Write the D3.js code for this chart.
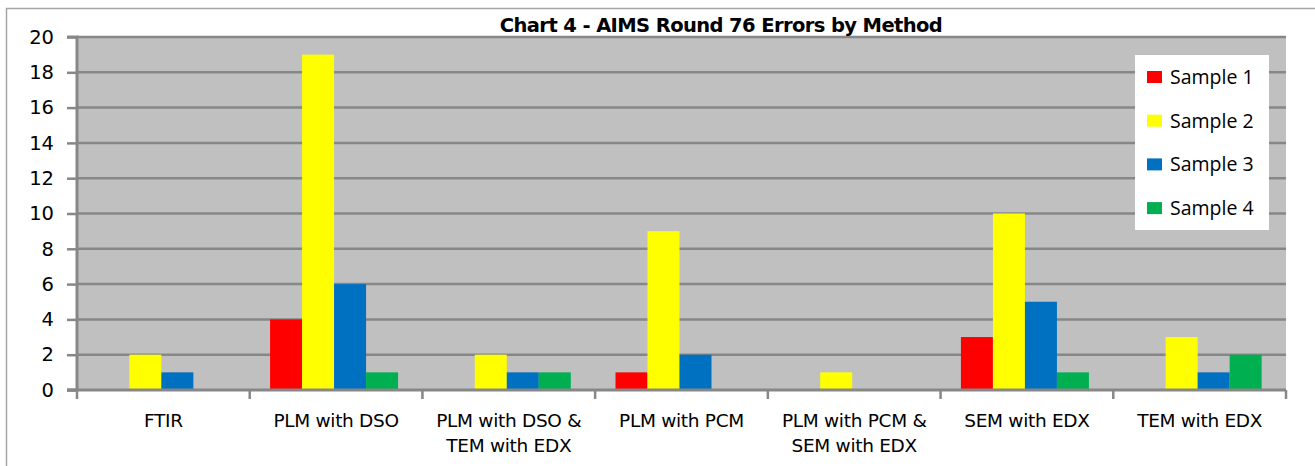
<!DOCTYPE html>
<html><head><meta charset="utf-8">
<script src="https://cdn.jsdelivr.net/npm/d3@7"></script>
<style>body{margin:0;background:#fff}svg{display:block}</style>
</head><body>
<svg id="c" width="1315" height="466"></svg>
<script>
const categories = [["FTIR"],["PLM with DSO"],["PLM with DSO &","TEM with EDX"],["PLM with PCM"],["PLM with PCM &","SEM with EDX"],["SEM with EDX"],["TEM with EDX"]];
const seriesNames = ["Sample 1","Sample 2","Sample 3","Sample 4"];
const sample1 = [0,4,0,1,0,3,0];
const sample2 = [2,19,2,9,1,10,3];
const sample3 = [1,6,1,2,0,5,1];
const sample4 = [0,1,1,0,0,1,2];
const colors = ["#FF0000","#FFFF00","#0070C0","#00B050"];
const yTicks = [0,2,4,6,8,10,12,14,16,18,20];
const title = "Chart 4 - AIMS Round 76 Errors by Method";

const series = [sample1,sample2,sample3,sample4];
const svg = d3.select("#c");
const L=77, R=1286, T=37, B=390;
const font = "'DejaVu Sans', Verdana, sans-serif";

svg.append("rect").attr("x",6.5).attr("y",8.5).attr("width",1320).attr("height",470)
  .attr("fill","#fff").attr("stroke","#A6A6A6").attr("stroke-width",1.5);

const x = d3.scaleBand().domain(d3.range(categories.length)).range([L,R]).paddingInner(0).paddingOuter(0);
const inner = d3.scaleBand().domain(d3.range(4)).range([0,128]);
const y = d3.scaleLinear().domain([0,20]).range([B,T]);

svg.append("rect").attr("x",L).attr("y",T).attr("width",R-L).attr("height",B-T).attr("fill","#C0C0C0");

svg.append("g").selectAll("line").data(yTicks.filter(d=>d>0)).join("line")
  .attr("x1",L).attr("x2",R).attr("y1",d=>y(d)).attr("y2",d=>y(d))
  .attr("stroke","#878787").attr("stroke-width",2.5);

// bars
const g = svg.append("g");
series.forEach((s,si)=>{
  g.selectAll(".b"+si).data(s).join("rect")
    .attr("x",(d,i)=>x(i)+x.bandwidth()/2-66+inner(si))
    .attr("width",inner.bandwidth())
    .attr("y",d=>y(d)).attr("height",d=>B-y(d))
    .attr("fill",colors[si]);
});

// y axis
const ya = svg.append("g").attr("transform",`translate(${L},0)`)
  .call(d3.axisLeft(y).tickValues(yTicks).tickSize(10).tickPadding(13));
ya.select(".domain").attr("stroke","#878787").attr("stroke-width",3);
ya.selectAll(".tick line").attr("stroke","#878787").attr("stroke-width",2.5);
ya.selectAll("text").attr("font-family",font).attr("font-size",19.5).attr("fill","#000");
ya.select(".domain").attr("d",`M-10,${T}H0V${B}H-10`);

// x axis
const xa = svg.append("g").attr("transform",`translate(0,${B})`);
xa.append("line").attr("x1",L-10).attr("x2",R).attr("y1",0).attr("y2",0).attr("stroke","#878787").attr("stroke-width",3);
const bounds = d3.range(categories.length+1).map(i=> i<categories.length ? x(i) : R);
xa.selectAll(".tk").data(bounds).join("line").attr("x1",d=>d).attr("x2",d=>d).attr("y1",0).attr("y2",9)
  .attr("stroke","#878787").attr("stroke-width",2.5);
const lab = xa.selectAll(".lab").data(categories).join("text")
  .attr("text-anchor","middle").attr("font-family",font).attr("font-size",18.5).attr("fill","#000")
  .attr("letter-spacing",-0.3)
  .attr("transform",(d,i)=>`translate(${x(i)+x.bandwidth()/2},37)`);
lab.selectAll("tspan").data(d=>d).join("tspan").attr("x",0).attr("dy",(d,i)=>i?25:0).text(d=>d);

// title
svg.append("text").attr("x",721).attr("y",32).attr("text-anchor","middle")
  .attr("font-family",font).attr("font-weight","bold").attr("font-size",19.5).attr("letter-spacing",-0.6).text(title);

// legend
const lg = svg.append("g");
lg.append("rect").attr("x",1135).attr("y",55).attr("width",134).attr("height",175).attr("fill","#fff");
const li = lg.selectAll(".li").data(seriesNames).join("g").attr("transform",(d,i)=>`translate(1147,${77+i*43.7})`);
li.append("rect").attr("x",0).attr("y",-6).attr("width",15).attr("height",12).attr("fill",(d,i)=>colors[i]);
li.append("text").attr("x",23).attr("y",7).attr("font-family","'Open Sans', sans-serif").attr("font-size",19.5).text(d=>d);
</script>
</body></html>
